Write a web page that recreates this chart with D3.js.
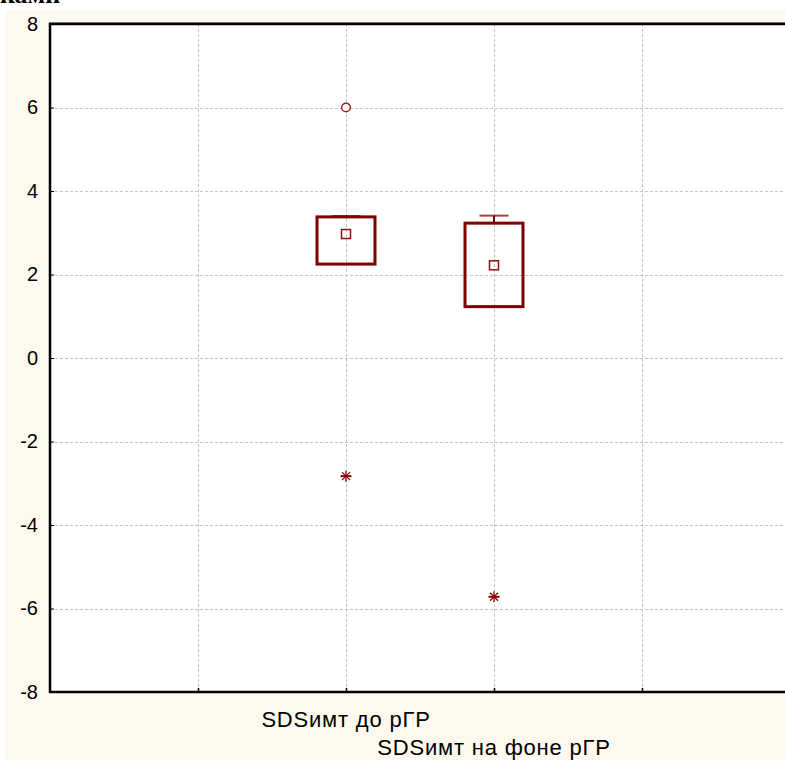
<!DOCTYPE html>
<html>
<head>
<meta charset="utf-8">
<script src="https://cdn.jsdelivr.net/npm/d3@7"></script>
<style>
  html, body { margin: 0; padding: 0; background: #ffffff; }
  svg { display: block; }
</style>
</head>
<body>
<svg id="chart" width="785" height="760"></svg>
<script>
// Box plot data: two groups (mean marker, Q1–Q3 box, min–max whiskers, outliers, extremes)
const categories = ["SDSимт до рГР", "SDSимт на фоне рГР"];
const means      = [2.97, 2.22];
const q1         = [2.25, 1.23];
const q3         = [3.38, 3.23];
const whiskerLo  = [2.25, 1.23];
const whiskerHi  = [3.40, 3.41];
const outliers   = [[6.0], []];
const extremes   = [[-2.83], [-5.72]];
const yTicks     = [-8, -6, -4, -2, 0, 2, 4, 6, 8];
const xGridAt    = [1, 2, 3, 4];

(function () {
const W = 785, H = 760;
const plotL = 50, plotR = 790, plotT = 24, plotB = 692;
const boxColor = "#800000";

const svg = d3.select("#chart");

// page background and the panel behind the plot
svg.append("rect").attr("x", 0).attr("y", 0).attr("width", W).attr("height", H).attr("fill", "#ffffff");
svg.append("rect").attr("x", 5).attr("y", 10).attr("width", W - 5).attr("height", H - 10).attr("fill", "#fef9ee");

// heading text above the panel (runs off the top of the page)
svg.append("text")
  .attr("x", 0).attr("y", 3)
  .attr("font-family", "Liberation Serif, Times New Roman, serif")
  .attr("font-weight", "bold")
  .attr("font-size", 26)
  .attr("fill", "#000")
  .text("ками");

const x = d3.scaleLinear().domain([0, 5]).range([plotL, plotR]);
const y = d3.scaleLinear().domain([-8, 8]).range([plotB, plotT]);

// plot area
svg.append("rect")
  .attr("x", plotL).attr("y", plotT)
  .attr("width", plotR - plotL).attr("height", plotB - plotT)
  .attr("fill", "#ffffff");

// grid
const grid = svg.append("g").attr("stroke", "#c4c4c4").attr("stroke-width", 1).attr("stroke-dasharray", "3,2");
grid.selectAll("line.h").data(yTicks.filter(t => t > -8 && t < 8)).join("line").attr("class", "h")
  .attr("x1", plotL).attr("x2", plotR)
  .attr("y1", d => Math.round(y(d)) + 0.5).attr("y2", d => Math.round(y(d)) + 0.5);
grid.selectAll("line.v").data(xGridAt).join("line").attr("class", "v")
  .attr("x1", d => Math.round(x(d)) + 0.5).attr("x2", d => Math.round(x(d)) + 0.5)
  .attr("y1", plotT).attr("y2", plotB);

// axes (ticks point inward)
const yAxis = d3.axisLeft(y).tickValues(yTicks).tickSize(-4).tickPadding(12).tickFormat(d => String(d));
const gy = svg.append("g").attr("transform", `translate(${plotL},0)`).call(yAxis);
gy.select(".domain").remove();
gy.selectAll(".tick line").attr("stroke", "#000").attr("stroke-width", 1);
gy.selectAll(".tick text")
  .attr("font-family", "Liberation Sans, Arial, sans-serif")
  .attr("font-size", 20).attr("fill", "#000");

const xAxis = d3.axisBottom(x).tickValues(xGridAt).tickSize(-4).tickFormat("");
const gx = svg.append("g").attr("transform", `translate(0,${plotB})`).call(xAxis);
gx.select(".domain").remove();
gx.selectAll(".tick line").attr("stroke", "#000").attr("stroke-width", 1.5);

// frame
svg.append("line").attr("x1", plotL - 1).attr("x2", W).attr("y1", plotT - 1.5).attr("y2", plotT - 1.5)
  .attr("stroke", "#999").attr("stroke-width", 1);
svg.append("line").attr("x1", plotL - 1).attr("x2", W).attr("y1", plotT).attr("y2", plotT)
  .attr("stroke", "#000").attr("stroke-width", 2.5);
svg.append("line").attr("x1", plotL - 1).attr("x2", W).attr("y1", plotB).attr("y2", plotB)
  .attr("stroke", "#000").attr("stroke-width", 2.5);
svg.append("line").attr("x1", plotL).attr("x2", plotL).attr("y1", plotT - 1).attr("y2", plotB + 1)
  .attr("stroke", "#000").attr("stroke-width", 2.5);

// category labels, staggered
svg.selectAll("text.cat").data(categories).join("text")
  .attr("class", "cat")
  .attr("x", (d, i) => x(i + 2))
  .attr("y", (d, i) => 727 + i * 28)
  .attr("text-anchor", "middle")
  .attr("font-family", "Liberation Sans, Arial, sans-serif")
  .attr("font-size", 22)
  .attr("letter-spacing", 0.8)
  .attr("fill", "#000")
  .text(d => d);

// boxes
const boxW = 58, capW = 29;
categories.forEach((c, i) => {
  const cx = x(i + 2);
  const g = svg.append("g");
  // whiskers
  g.append("line").attr("x1", cx).attr("x2", cx).attr("y1", y(whiskerHi[i])).attr("y2", y(q3[i]))
    .attr("stroke", boxColor).attr("stroke-width", 2);
  g.append("line").attr("x1", cx).attr("x2", cx).attr("y1", y(whiskerLo[i])).attr("y2", y(q1[i]))
    .attr("stroke", boxColor).attr("stroke-width", 2);
  g.append("line").attr("x1", cx - capW / 2).attr("x2", cx + capW / 2)
    .attr("y1", y(whiskerHi[i])).attr("y2", y(whiskerHi[i]))
    .attr("stroke", boxColor).attr("stroke-width", 2).attr("stroke-opacity", 0.75);
  g.append("line").attr("x1", cx - capW / 2).attr("x2", cx + capW / 2)
    .attr("y1", y(whiskerLo[i])).attr("y2", y(whiskerLo[i]))
    .attr("stroke", boxColor).attr("stroke-width", 2).attr("stroke-opacity", 0.75);
  // box
  g.append("rect")
    .attr("x", cx - boxW / 2).attr("y", y(q3[i]))
    .attr("width", boxW).attr("height", y(q1[i]) - y(q3[i]))
    .attr("fill", "none").attr("stroke", boxColor).attr("stroke-width", 3);
  // mean marker
  g.append("rect")
    .attr("x", cx - 4.5).attr("y", y(means[i]) - 4.5)
    .attr("width", 9).attr("height", 9)
    .attr("fill", "none").attr("stroke", "#8b1010").attr("stroke-width", 1.5);
  // outliers
  outliers[i].forEach(v => {
    g.append("circle").attr("cx", cx).attr("cy", y(v)).attr("r", 4.3)
      .attr("fill", "#fff").attr("stroke", "#a01818").attr("stroke-width", 1.4);
  });
  // extremes (asterisks)
  extremes[i].forEach(v => {
    const sy = y(v), r = 5.5, d = 4;
    const star = g.append("g").attr("stroke", "#8b0000").attr("stroke-width", 1.3);
    star.append("line").attr("x1", cx - r).attr("x2", cx + r).attr("y1", sy).attr("y2", sy).attr("stroke-width", 2);
    star.append("line").attr("x1", cx).attr("x2", cx).attr("y1", sy - r).attr("y2", sy + r);
    star.append("line").attr("x1", cx - d).attr("x2", cx + d).attr("y1", sy - d).attr("y2", sy + d);
    star.append("line").attr("x1", cx - d).attr("x2", cx + d).attr("y1", sy + d).attr("y2", sy - d);
  });
});
})();
</script>
</body>
</html>
